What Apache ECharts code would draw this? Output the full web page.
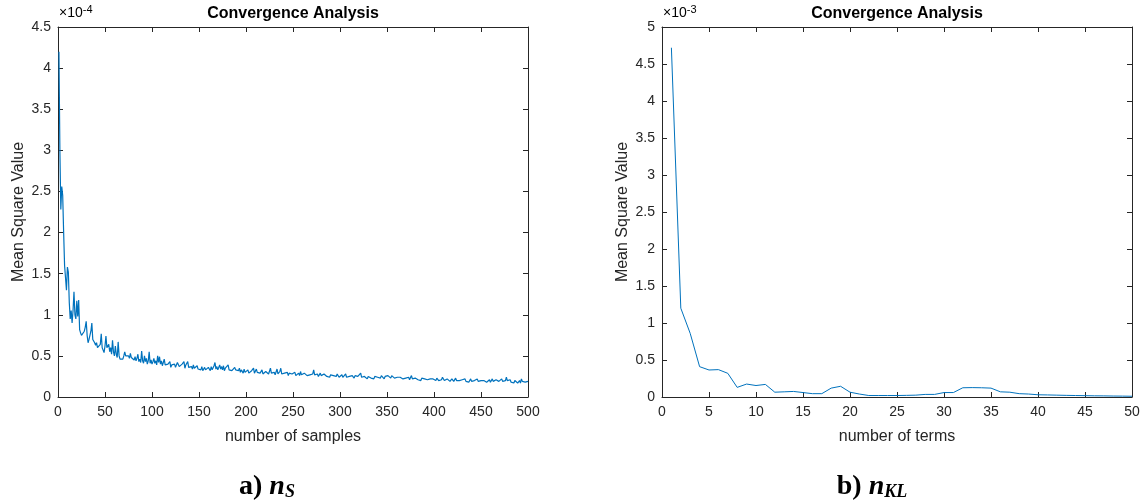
<!DOCTYPE html>
<html>
<head>
<meta charset="utf-8">
<script src="https://cdn.jsdelivr.net/npm/echarts@6/dist/echarts.min.js"></script>
<style>
html,body{margin:0;padding:0;background:#fff;}
#main{width:1145px;height:501px;}
</style>
</head>
<body>
<div id="main"></div>
<script>
// ---- Data (left: mean square value x 1e-4, per number of samples 1..500) ----
const samplesMSV = [
4.2,3.0,2.28,2.56,2.45,2.0,1.6,1.45,1.3,1.58,
1.52,1.15,0.95,1.05,0.9,1.05,1.28,1.0,0.95,1.17,
0.98,1.18,0.82,0.78,0.75,0.77,0.74,0.8,0.85,0.92,
0.75,0.66,0.7,0.72,0.8,0.9,0.7,0.68,0.66,0.63,
0.66,0.6,0.62,0.58,0.64,0.77,0.6,0.57,0.54,0.62,
0.74,0.6,0.58,0.64,0.55,0.6,0.52,0.69,0.55,0.5,
0.62,0.52,0.48,0.67,0.5,0.46,0.47,0.48,0.46,0.5,
0.55,0.5,0.52,0.49,0.5,0.47,0.53,0.48,0.46,0.5,
0.45,0.49,0.44,0.47,0.52,0.43,0.46,0.42,0.56,0.44,
0.41,0.5,0.43,0.47,0.4,0.44,0.55,0.41,0.45,0.4,
0.43,0.47,0.41,0.44,0.39,0.5,0.42,0.49,0.4,0.44,
0.38,0.42,0.46,0.39,0.41,0.37,0.4,0.38,0.43,0.36,
0.39,0.41,0.37,0.4,0.36,0.38,0.42,0.44,0.37,0.39,
0.36,0.4,0.38,0.43,0.35,0.39,0.37,0.43,0.36,0.38,
0.35,0.37,0.34,0.39,0.35,0.36,0.33,0.38,0.34,0.32,
0.35,0.33,0.37,0.32,0.34,0.36,0.33,0.35,0.31,0.36,
0.34,0.32,0.37,0.33,0.35,0.38,0.42,0.34,0.37,0.33,
0.36,0.39,0.34,0.37,0.33,0.38,0.32,0.35,0.37,0.34,
0.39,0.33,0.31,0.35,0.32,0.34,0.3,0.36,0.33,0.31,
0.34,0.32,0.35,0.3,0.33,0.31,0.29,0.34,0.3,0.32,
0.3,0.33,0.29,0.31,0.28,0.32,0.3,0.35,0.29,0.31,
0.34,0.3,0.28,0.32,0.29,0.31,0.33,0.28,0.3,0.27,
0.31,0.29,0.33,0.28,0.3,0.35,0.29,0.31,0.28,0.3,
0.27,0.29,0.34,0.28,0.3,0.31,0.35,0.28,0.3,0.27,
0.29,0.31,0.28,0.3,0.26,0.29,0.27,0.3,0.28,0.26,
0.28,0.3,0.26,0.28,0.27,0.29,0.26,0.31,0.27,0.28,
0.26,0.29,0.27,0.3,0.26,0.28,0.25,0.27,0.29,0.26,
0.28,0.33,0.27,0.29,0.26,0.28,0.25,0.27,0.29,0.26,
0.27,0.25,0.28,0.26,0.3,0.25,0.27,0.26,0.24,0.27,
0.25,0.28,0.26,0.24,0.27,0.25,0.28,0.26,0.24,0.26,
0.25,0.27,0.24,0.26,0.25,0.28,0.24,0.26,0.23,0.25,
0.27,0.24,0.26,0.25,0.23,0.26,0.24,0.27,0.25,0.24,
0.26,0.29,0.24,0.26,0.23,0.25,0.27,0.24,0.22,0.25,
0.24,0.26,0.23,0.25,0.24,0.22,0.25,0.23,0.26,0.24,
0.22,0.25,0.23,0.26,0.28,0.24,0.22,0.25,0.27,0.24,
0.26,0.28,0.25,0.23,0.26,0.24,0.27,0.23,0.25,0.22,
0.24,0.26,0.22,0.24,0.23,0.25,0.22,0.24,0.21,0.23,
0.25,0.22,0.24,0.21,0.23,0.26,0.22,0.24,0.21,0.23,
0.22,0.24,0.21,0.23,0.22,0.2,0.23,0.21,0.24,0.22,
0.2,0.22,0.21,0.23,0.2,0.22,0.21,0.2,0.22,0.21,
0.22,0.2,0.23,0.21,0.2,0.22,0.19,0.21,0.24,0.22,
0.2,0.21,0.19,0.22,0.2,0.21,0.19,0.2,0.22,0.2,
0.19,0.21,0.23,0.2,0.19,0.21,0.2,0.18,0.2,0.21,
0.19,0.2,0.22,0.19,0.21,0.2,0.18,0.2,0.22,0.19,
0.21,0.19,0.2,0.18,0.2,0.22,0.19,0.2,0.18,0.2,
0.21,0.19,0.2,0.22,0.19,0.18,0.2,0.19,0.21,0.18,
0.2,0.22,0.19,0.2,0.18,0.21,0.23,0.2,0.19,0.18,
0.2,0.22,0.19,0.21,0.18,0.2,0.24,0.2,0.18,0.19,
0.21,0.18,0.2,0.19,0.17,0.2,0.18,0.19,0.17,0.18,
0.2,0.17,0.22,0.19,0.18,0.21,0.18,0.19,0.2,0.19
];

// ---- Data (right: mean square value x 1e-3, per number of KL terms 1..50) ----
const termsMSV = [
4.72,1.2,0.86,0.41,0.365,0.37,0.32,0.13,0.175,0.155,
0.17,0.065,0.07,0.075,0.06,0.045,0.045,0.12,0.145,0.065,
0.04,0.02,0.02,0.02,0.02,0.022,0.025,0.035,0.035,0.06,
0.06,0.125,0.127,0.125,0.12,0.07,0.065,0.045,0.04,0.03,
0.028,0.025,0.022,0.02,0.018,0.016,0.015,0.013,0.012,0.01
];

const leftX = { min: 0, max: 500, interval: 50 };
const leftY = { min: 0, max: 4.5, interval: 0.5 };
const rightX = { min: 0, max: 50, interval: 5 };
const rightY = { min: 0, max: 5, interval: 0.5 };

const titles = ['Convergence Analysis', 'Convergence Analysis'];
const xNames = ['number of samples', 'number of terms'];
const yName = 'Mean Square Value';

// ---- Build ----
const leftData = samplesMSV.map((v, i) => [i + 1, v]);
const rightData = termsMSV.map((v, i) => [i + 1, v]);

const FONT = '"Liberation Sans", Arial, Helvetica, sans-serif';
const SERIF = '"Liberation Serif", "Times New Roman", serif';
const AX = '#262626';
const grids = [
  { left: 58, top: 27, width: 470, height: 370 },
  { left: 662, top: 27, width: 470, height: 370 }
];

function xAxisPair(gi, sc, name) {
  const base = {
    type: 'value', gridIndex: gi, min: sc.min, max: sc.max, interval: sc.interval,
    axisLine: { show: true, onZero: false, lineStyle: { color: AX, width: 1 } },
    axisTick: { show: true, inside: true, length: 5, lineStyle: { color: AX } },
    splitLine: { show: false }
  };
  return [
    Object.assign({}, base, {
      position: 'bottom', name: name, nameLocation: 'middle', nameGap: 32,
      nameTextStyle: { color: AX, fontFamily: FONT, fontSize: 16 },
      axisLabel: { color: AX, fontFamily: FONT, fontSize: 14, margin: 8 }
    }),
    Object.assign({}, base, { position: 'top', axisLabel: { show: false } })
  ];
}
function yAxisPair(gi, sc) {
  const base = {
    type: 'value', gridIndex: gi, min: sc.min, max: sc.max, interval: sc.interval,
    axisLine: { show: true, onZero: false, lineStyle: { color: AX, width: 1 } },
    axisTick: { show: true, inside: true, length: 5, lineStyle: { color: AX } },
    splitLine: { show: false }
  };
  return [
    Object.assign({}, base, {
      position: 'left', name: yName, nameLocation: 'middle', nameGap: 31,
      nameTextStyle: { color: AX, fontFamily: FONT, fontSize: 16 },
      axisLabel: { color: AX, fontFamily: FONT, fontSize: 14, margin: 7 }
    }),
    Object.assign({}, base, { position: 'right', axisLabel: { show: false } })
  ];
}

function expLabel(x, exp) {
  return {
    type: 'text', x: x, y: 23,
    style: {
      text: '{b|×10}{e|' + exp + '}',
      verticalAlign: 'bottom',
      rich: {
        b: { fontFamily: FONT, fontSize: 14, color: AX },
        e: { fontFamily: FONT, fontSize: 11, color: AX, padding: [0, 0, 8, 0] }
      }
    }
  };
}
function caption(x, letter, sym, sub) {
  return {
    type: 'text', x: x, y: 487,
    style: {
      text: '{a|' + letter + ') }{n|' + sym + '}{s|' + sub + '}',
      align: 'center', verticalAlign: 'middle',
      rich: {
        a: { fontFamily: SERIF, fontWeight: 'bold', fontSize: 28, color: '#000' },
        n: { fontFamily: SERIF, fontWeight: 'bold', fontStyle: 'italic', fontSize: 28, color: '#000' },
        s: { fontFamily: SERIF, fontWeight: 'bold', fontStyle: 'italic', fontSize: 18, color: '#000', padding: [11, 0, 0, 0] }
      }
    }
  };
}
function plotTitle(x, t) {
  return {
    type: 'text', x: x, y: 14,
    style: { text: t, align: 'center', verticalAlign: 'middle', font: 'bold 16px ' + FONT, fill: '#000' }
  };
}

const lx = xAxisPair(0, leftX, xNames[0]);
const rx = xAxisPair(1, rightX, xNames[1]);
const ly = yAxisPair(0, leftY);
const ry = yAxisPair(1, rightY);

const option = {
  animation: false,
  backgroundColor: '#fff',
  grid: grids,
  xAxis: [lx[0], lx[1], rx[0], rx[1]],
  yAxis: [ly[0], ly[1], ry[0], ry[1]],
  series: [
    { type: 'line', xAxisIndex: 0, yAxisIndex: 0, data: leftData, showSymbol: false, symbol: 'none',
      lineStyle: { color: '#0072BD', width: 1.2 }, silent: true },
    { type: 'line', xAxisIndex: 2, yAxisIndex: 2, data: rightData, showSymbol: false, symbol: 'none',
      lineStyle: { color: '#0072BD', width: 1 }, silent: true }
  ],
  graphic: [
    plotTitle(293, titles[0]),
    plotTitle(897, titles[1]),
    expLabel(59, '-4'),
    expLabel(663, '-3'),
    caption(267, 'a', 'n', 'S'),
    caption(872, 'b', 'n', 'KL')
  ]
};

const chart = echarts.init(document.getElementById('main'), null, { renderer: 'canvas' });
chart.setOption(option);
</script>
</body>
</html>
